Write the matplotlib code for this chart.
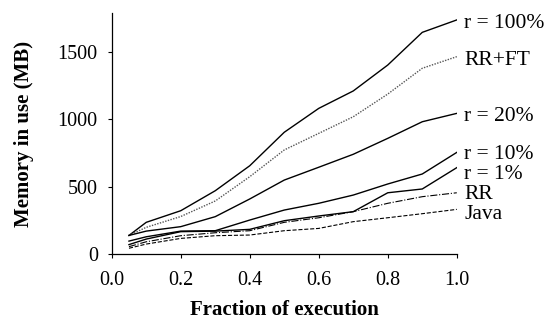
import numpy as np
from matplotlib import pyplot as plt

# fraction of execution (x) and memory in use (MB) for each run
frac = [0.05, 0.1, 0.2, 0.3, 0.4, 0.5, 0.6, 0.7, 0.8, 0.9, 1.0]
r100 = [140, 237, 323, 471, 656, 904, 1081, 1210, 1402, 1644, 1736]
rr_ft = [140, 200, 280, 395, 575, 773, 896, 1019, 1187, 1378, 1464]
r20 = [140, 172, 205, 279, 410, 550, 645, 741, 859, 982, 1044]
r10 = [98, 130, 172, 175, 254, 328, 378, 439, 521, 595, 755]
r1 = [72, 113, 168, 172, 185, 249, 284, 316, 456, 484, 642]
rr = [57, 93, 138, 160, 175, 237, 271, 316, 378, 427, 456]
java = [45, 76, 118, 138, 143, 175, 192, 242, 271, 301, 333]

names = ['r = 100%', 'RR+FT', 'r = 20%', 'r = 10%', 'r = 1%', 'RR', 'Java']
series = [r100, rr_ft, r20, r10, r1, rr, java]

plt.rcParams['font.family'] = ['Liberation Serif', 'DejaVu Serif']

fig = plt.figure(figsize=(5.46, 3.24), dpi=100)
ax = fig.add_axes([0.2046, 0.215, 0.632, 0.746])

styles = [
    dict(color='black', ls='-', lw=1.0),
    dict(color='#555555', ls=(0, (1, 1)), lw=1.0),
    dict(color='black', ls='-', lw=1.0),
    dict(color='black', ls='-', lw=1.0),
    dict(color='black', ls='-', lw=1.0),
    dict(color='black', ls='-.', lw=0.8),
    dict(color='black', ls='--', lw=0.8),
]
# vertical nudges (points) so the labels sit like the original
nudges = [-2.5, -3, -2, -1.5, -4.7, -1.5, -3.5]

for name, vals, st, dy in zip(names, series, styles, nudges):
    ax.plot(frac, vals, **st)
    ax.annotate(name, xy=(1.0, vals[-1]), xytext=(5.5, dy),
                textcoords='offset points', va='center', ha='left',
                fontsize=15.5, annotation_clip=False)

ax.set_xlim(0, 1.0)
ax.set_ylim(0, 1790)
ax.set_xticks(np.arange(0, 1.01, 0.2))
ax.set_xticklabels(['%.1f' % t for t in np.arange(0, 1.01, 0.2)])
ax.set_yticks([0, 500, 1000, 1500])
ax.tick_params(labelsize=14.5, length=3, width=0.8)
ax.tick_params(axis='x', pad=9)
ax.tick_params(axis='y', pad=7)
for s in ['top', 'right']:
    ax.spines[s].set_visible(False)
for s in ['left', 'bottom']:
    ax.spines[s].set_linewidth(0.9)

ax.set_xlabel('Fraction of execution', fontsize=15, fontweight='bold')
ax.set_ylabel('Memory in use (MB)', fontsize=15, fontweight='bold')
ax.xaxis.set_label_coords(0.5, -0.19)
ax.yaxis.set_label_coords(-0.225, 0.5)

plt.savefig('out.png', dpi=100)
